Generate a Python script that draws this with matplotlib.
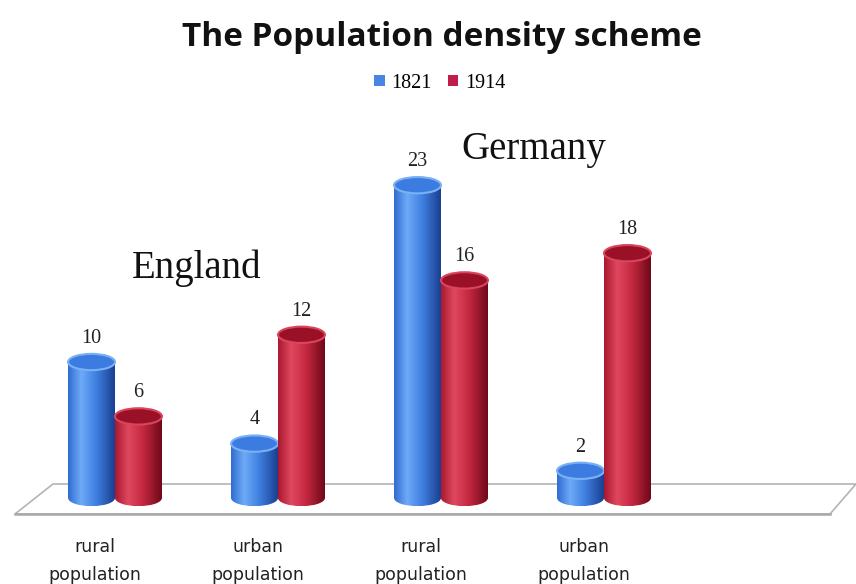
import numpy as np
import matplotlib
matplotlib.use("Agg")
import matplotlib.pyplot as plt
from matplotlib.patches import Ellipse, Polygon, Rectangle
from matplotlib.colors import to_rgb

# ---- data ----
categories = ["rural\npopulation", "urban\npopulation", "rural\npopulation", "urban\npopulation"]
series_names = ["1821", "1914"]
values_1821 = [10, 4, 23, 2]
values_1914 = [6, 12, 16, 18]
country_labels = ["England", "Germany"]
country_pos = [0.5, 2.57]
country_y = [16.9, 25.6]

title = "The Population density scheme"

# ---- style ----
blue_stops = ["#2f6cd0", "#6eaaf8", "#3f80e0", "#1a3f90"]
red_stops = ["#a8182f", "#e0485f", "#c42840", "#6e0818"]
blue_top = "#3c7ce0"; blue_rim = "#7ab0f5"
red_top = "#9a1026"; red_rim = "#d8455c"
stop_pos = [0.0, 0.28, 0.6, 1.0]

W, H = 856, 584
fig = plt.figure(figsize=(W / 100, H / 100), dpi=100)
ax = fig.add_axes([0, 0, 1, 1])
PXX, X0 = 163.0, 115.0
PXY, Y0 = 13.6, 498.0
xlim = (-X0 / PXX, (W - X0) / PXX)
ylim = (-(H - Y0) / PXY, Y0 / PXY)
ax.axis("off")


def gradient(stops):
    t = np.linspace(0, 1, 256)
    cols = np.array([to_rgb(c) for c in stops])
    arr = np.stack([np.interp(t, stop_pos, cols[:, k]) for k in range(3)], axis=-1)
    return arr[np.newaxis, :, :]


# floor
def px2d(px, py):
    return ((px - X0) / PXX, (Y0 - py) / PXY)

floor = Polygon([px2d(15, 514), px2d(53, 484), px2d(856, 484), px2d(830, 514)],
                closed=True, facecolor="white", edgecolor="#b4b4b4", lw=1.2, zorder=1)
ax.add_patch(floor)
ax.plot(*zip(px2d(15, 514), px2d(830, 514)), color="#a8a8a8", lw=1.8, zorder=1.1)

bw = 0.288
eh = 1.2
x = np.arange(len(categories))
bars_a = ax.bar(x - bw / 2, values_1821, width=bw, color="none", edgecolor="none", zorder=2)
bars_b = ax.bar(x + bw / 2, values_1914, width=bw, color="none", edgecolor="none", zorder=2)


def draw_cyl(rect, stops, topc, rimc, z):
    x0 = rect.get_x(); w = rect.get_width(); h = rect.get_height()
    xc = x0 + w / 2
    g = gradient(stops)
    be = Ellipse((xc, 0), w, eh, facecolor="none", edgecolor="none")
    ax.add_patch(be)
    im = ax.imshow(g, extent=[x0, x0 + w, -eh / 2, eh / 2], aspect="auto",
                   interpolation="bicubic", zorder=z)
    im.set_clip_path(be)
    body = Rectangle((x0, 0), w, h, facecolor="none", edgecolor="none")
    ax.add_patch(body)
    im2 = ax.imshow(g, extent=[x0, x0 + w, 0, h], aspect="auto",
                    interpolation="bicubic", zorder=z)
    im2.set_clip_path(body)
    te = Ellipse((xc, h), w, eh, facecolor=topc, edgecolor=rimc, lw=1.5, zorder=z + 0.1)
    ax.add_patch(te)


for i, (ra, rb) in enumerate(zip(bars_a, bars_b)):
    draw_cyl(ra, blue_stops, blue_top, blue_rim, 3 + i)
    draw_cyl(rb, red_stops, red_top, red_rim, 3.5 + i)
    for r, v in ((ra, values_1821[i]), (rb, values_1914[i])):
        ax.text(r.get_x() + r.get_width() / 2, v + 1.05, str(v), ha="center", va="bottom",
                fontsize=14.5, family="Liberation Serif", color="#222222", zorder=10)

for i, lab in enumerate(categories):
    ax.text(i - 0.125, -2.95, lab, ha="center", va="top", fontsize=12.5,
            family="DejaVu Sans", color="#222222", linespacing=1.7)

for lab, xp, yp in zip(country_labels, country_pos, country_y):
    ax.text(xp, yp, lab, ha="center", va="center", fontsize=28,
            family="Liberation Serif", color="#111111")

ax.set_xlim(*xlim)
ax.set_ylim(*ylim)

fig.text(441.5 / W, 1 - 38 / H, title, ha="center", va="center", fontsize=24,
         fontweight="bold", family="Open Sans", color="#111111")

handles = [Rectangle((0, 0), 1, 1, facecolor="#4a84e4"), Rectangle((0, 0), 1, 1, facecolor="#c01e48")]
fig.legend(handles, series_names, loc="center", bbox_to_anchor=(440 / W, 1 - 83 / H), ncol=2,
           frameon=False, handlelength=0.5, handleheight=0.5, handletextpad=0.35,
           columnspacing=0.8, prop={"family": "Liberation Serif", "size": 14.5})

fig.savefig("out.png", dpi=100)
